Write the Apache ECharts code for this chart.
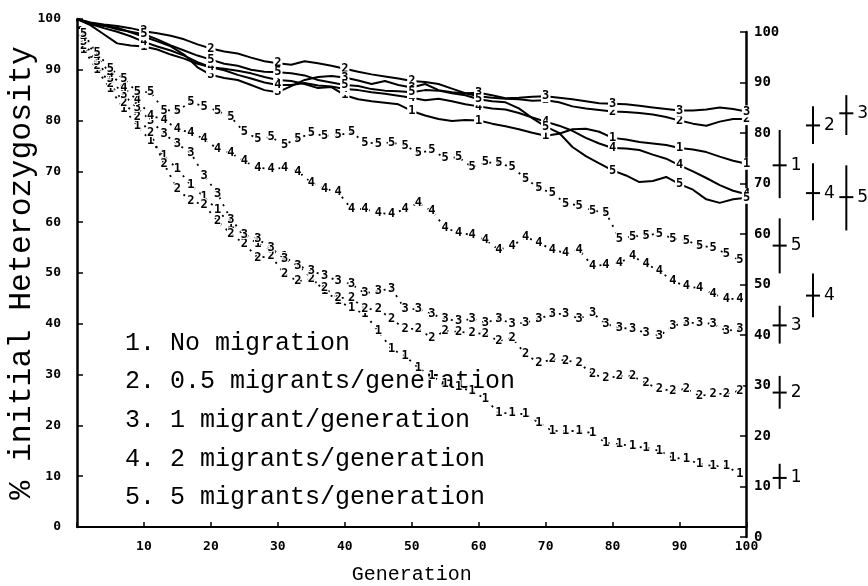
<!DOCTYPE html>
<html><head><meta charset="utf-8">
<script src="https://cdn.jsdelivr.net/npm/echarts@6/dist/echarts.min.js"></script>
<style>html,body{margin:0;padding:0;background:#fff}#c{width:868px;height:586px}</style>
</head><body><div id="c"></div>
<script>
// Generations at which the solid (total heterozygosity) lines are read
const upperGens = [0,2,4,6,8,10,12,14,16,18,20,22,24,26,28,30,32,34,36,38,40,42,44,46,48,50,52,54,56,58,60,62,64,66,68,70,72,74,76,78,80,82,84,86,88,90,92,94,96,98,100];
const total1 = [100,98.8,97.0,95.2,94.8,94.6, 94.0,93.0,92.2,91.2,90.5, 90.2,89.8,89.3,88.6,88.0, 87.8,87.2,86.4,86.6,85.0, 84.2,83.8,83.5,83.2,81.9, 81.0,80.3,79.9,80.1,80.0, 79.4,78.9,78.3,77.6,77.0, 77.4,78.3,78.4,77.8,76.6, 76.3,75.8,75.5,75.2,74.6, 74.3,73.8,72.9,72.1,71.5];
const total2 = [100,99.3,98.9,98.6,98.2,97.6, 97.2,96.7,96.0,95.0,94.2, 93.6,93.2,92.4,91.7,91.3, 91.0,91.7,91.3,90.8,90.2, 89.6,89.1,88.7,88.3,87.8, 87.6,87.2,86.3,85.4,84.8, 84.5,84.3,84.2,83.9,84.0, 83.6,82.8,82.4,82.1,81.8, 81.7,81.5,81.2,80.7,80.0, 79.4,79.0,79.8,80.3,80.3];
const total3 = [100,99.0,98.6,98.3,97.4,96.5, 95.6,94.6,93.0,90.5,89.0, 88.4,88.0,87.0,86.0,85.6, 86.8,88.0,88.6,88.8,88.5, 87.9,87.2,87.8,87.0,86.5, 87.2,86.0,85.6,85.4,85.5, 85.0,84.4,84.5,84.7,84.8, 84.5,84.2,83.8,83.4,83.3, 83.2,82.9,82.6,82.3,82.0, 82.0,82.2,82.6,82.3,81.8];
const total4 = [100,99.0,98.2,97.5,96.6,95.5, 94.6,93.8,92.8,91.5,90.5, 89.9,89.0,88.3,87.5,87.0, 87.0,87.4,86.9,86.7,86.2, 86.0,85.6,85.3,84.9,84.5, 84.0,84.3,83.8,83.2,82.8, 82.4,82.2,81.5,80.6,79.8, 79.0,78.0,76.6,75.5,74.6, 74.5,74.2,73.3,72.5,71.2, 70.0,68.7,67.3,66.2,65.5];
const total5 = [100,99.2,98.7,98.0,97.5,97.0, 96.0,94.8,93.8,92.8,92.0, 91.2,90.8,90.0,89.6,89.5, 89.3,88.9,88.0,87.5,87.0, 86.8,86.2,85.9,85.8,85.6, 86.0,85.9,85.4,85.0,84.2, 83.8,83.6,82.4,80.5,78.8, 77.6,74.8,73.0,71.6,70.2, 69.2,67.9,68.1,68.9,67.5, 66.4,64.5,63.8,64.5,64.8];

// Generations of the numbered (within-subpopulation) curves
const lowerGens = [0,1,3,5,7,9,11,13,15,17,19,21,23,25,27,29,31,33,35,37,39,41,43,45,47,49,51,53,55,57,59,61,63,65,67,69,71,73,75,77,79,81,83,85,87,89,91,93,95,97,99];
const within1 = [100, 94,90,86.2,82.3,79,76,73,70.5,67.3,65, 62.4,59.5,57.5,55.8,54.5,53.2,51.5,49,46.5,44.5, 43.1,41.9,38.6,35,33.7,31.3,29.7,28.1,27.5,26.8, 25.2,22.4,22.4,22.2,20.5,18.9,18.9,18.9,18.5,16.5, 16.3,15.9,15.6,15,13.6,13.4,12.4,12,12,10.4];
const within2 = [100, 94.8,90.7,87.2,83.5,80.8,77.5,71.5,66.5,64.2,63.4, 60.2,57.7,55.7,53,53.3,49.8,48.4,48.8,47,45.1, 45.1,42.9,42.9,40.9,39,39,37.2,38.6,38.4,38.2, 38,36.6,37.2,34,32.3,33,32.8,32.3,30.1,29.3, 29.7,29.7,28.3,27.2,26.8,27.2,25.8,26.2,26.2,26.8];
const within3 = [100, 95.5,91.5,88.2,85,82.5,80,77.4,75.4,73.6,69.2, 65.6,60.5,57.5,56.7,54.9,52.8,51.5,50.4,49.5,48.4, 47.8,46,46.5,46.9,42.9,42.9,41.9,41,40.5,41, 40.2,41,40,40.2,41,41.9,42,41,42.1,40, 39.2,39,38.2,37.6,39.6,40.2,40.2,40,38.6,39];
const within4 = [100, 96.3,92.5,89.2,86.5,84,81,80.2,78.3,77.6,76.4, 74.4,73.6,72,70.7,70.5,70.7,70,67.8,66.6,65.9, 62.6,62.6,61.8,61.6,62.6,63.8,62.2,58.9,57.9,57.5, 56.5,54.6,55.3,57.1,56,54.5,54,54.5,51.4,51.6, 52,53.3,51.8,50.4,48.4,47.4,47,45.9,44.9,44.9];
const within5 = [100, 97,93.3,90.2,88.2,85.6,85.6,82,82,83.6,82.8, 81.9,80.7,77.7,76.5,76.7,75.3,76.5,77.5,77,77.1, 77.7,75.7,75.5,75.7,75.1,73.6,74.2,72.6,72.8,70.8, 71.8,71.6,70.8,68.6,66.7,65.7,63.7,63.3,62.3,61.9, 56.8,57.2,57.4,57.8,56.8,56.4,55.4,55,53.8,52.5];

const seriesDigits = ['1','2','3','4','5'];
const legendLines = ['1. No migration','2. 0.5 migrants/generation','3. 1 migrant/generation','4. 2 migrants/generation','5. 5 migrants/generation'];
const yTitle = '% initial Heterozygosity';
const xTitle = 'Generation';

// Error bars (read on the right-hand axis)
const errColumns = ['c1','c2','c3'];
const errLabels = ['1','2','3','4','5','5','4','3','2','1'];
const errColumn = ['c1','c2','c3','c2','c3','c1','c2','c1','c1','c1'];
const errMean = [73.6,81.5,83.9,68.1,67.3,57.7,47.8,41.9,28.6,11.7];
const errLow  = [67.1,77.8,79.6,62.7,60.7,52.2,43.5,38.3,25.4,9.5];
const errHigh = [80.6,85.3,87.5,74.0,73.6,63.1,52.2,45.8,31.9,14.5];

const totals = [total1,total2,total3,total4,total5];
const withins = [within1,within2,within3,within4,within5];

const tickFont = {color:'#000', fontFamily:'DejaVu Sans Mono', fontWeight:'bold', fontSize:13};
const series = [];
withins.forEach((arr, i) => {
  series.push({
    type:'line', xAxisIndex:0, yAxisIndex:0, animation:false, silent:true,
    symbol:'circle', symbolSize:0, showSymbol:true, showAllSymbol:true,
    lineStyle:{color:'#000', width:1.8, type:[2,6]},
    itemStyle:{color:'#000'},
    label:{show:true, position:'inside', formatter: seriesDigits[i],
      fontFamily:'DejaVu Sans Mono', fontWeight:'bold', fontSize:12, color:'#000',
      textBorderColor:'#fff', textBorderWidth:2},
    data: lowerGens.map((g, j) => ({value:[g, arr[j]], label:{show: g > 0}})),
    z:2
  });
});
totals.forEach((arr, i) => {
  series.push({
    type:'line', xAxisIndex:0, yAxisIndex:0, animation:false, silent:true,
    symbol:'circle', symbolSize:0, showSymbol:true, showAllSymbol:true,
    lineStyle:{color:'#000', width:2},
    itemStyle:{color:'#000'},
    label:{show:true, position:'inside', formatter: seriesDigits[i],
      fontFamily:'DejaVu Sans Mono', fontWeight:'bold', fontSize:12, color:'#000',
      backgroundColor:'#fff', padding:[0,1]},
    data: upperGens.map((g, j) => ({value:[g, arr[j]], label:{show: g > 0 && g % 10 === 0}})),
    z:3
  });
});
series.push({
  type:'custom', xAxisIndex:2, yAxisIndex:2, animation:false, silent:true,
  data: errMean.map((m, i) => [errColumn[i], m, errLow[i], errHigh[i]]),
  renderItem: function (params, api) {
    const c = api.value(0);
    const pm = api.coord([c, api.value(1)]);
    const pl = api.coord([c, api.value(2)]);
    const ph = api.coord([c, api.value(3)]);
    return {type:'group', children:[
      {type:'line', shape:{x1:pm[0], y1:ph[1], x2:pm[0], y2:pl[1]}, style:{stroke:'#000', lineWidth:2}},
      {type:'line', shape:{x1:pm[0]-7, y1:pm[1], x2:pm[0]+7, y2:pm[1]}, style:{stroke:'#000', lineWidth:2}},
      {type:'text', x:pm[0]+11, y:pm[1], style:{text: errLabels[params.dataIndex], fill:'#000',
        fontFamily:'DejaVu Sans', fontSize:17, verticalAlign:'middle', align:'left'}}
    ]};
  }
});

const graphics = legendLines.map((t, i) => ({
  type:'text', x:125, y:343 + i*38.7, silent:true,
  style:{text:t, fill:'#000', fontFamily:'Liberation Mono', fontSize:25, verticalAlign:'middle', align:'left'}
}));
graphics.push({
  type:'text', x:22, y:273, rotation:Math.PI/2, silent:true,
  style:{text:yTitle, fill:'#000', fontFamily:'Liberation Mono', fontSize:31.5, verticalAlign:'middle', align:'center'}
});

const chart = echarts.init(document.getElementById('c'), null, {renderer:'canvas'});
chart.setOption({
  backgroundColor:'#fff',
  animation:false,
  grid:[
    {left:77, right:121.5, top:19, bottom:59, outerBoundsMode:'none'},
    {left:77, right:122, top:32, bottom:49, outerBoundsMode:'none'},
    {left:763, width:100, top:32, bottom:49, outerBoundsMode:'none'}
  ],
  xAxis:[
    {gridIndex:0, type:'value', min:0, max:100, interval:10,
     axisLine:{show:true, onZero:false, lineStyle:{color:'#000', width:2}},
     axisTick:{show:true, inside:true, length:5, lineStyle:{color:'#000', width:1.5}},
     axisLabel:Object.assign({margin:13, formatter: v => v === 0 ? '' : String(v)}, tickFont),
     splitLine:{show:false},
     name:xTitle, nameLocation:'middle', nameGap:38,
     nameTextStyle:{fontFamily:'Liberation Mono', fontSize:20, color:'#000'}},
    {gridIndex:1, type:'value', min:0, max:100, show:false, axisLine:{onZero:false}},
    {gridIndex:2, type:'category', data:errColumns, show:false}
  ],
  yAxis:[
    {gridIndex:0, type:'value', min:0, max:100, interval:10,
     axisLine:{show:true, onZero:false, lineStyle:{color:'#000', width:2.5}},
     axisTick:{show:true, inside:true, length:6, lineStyle:{color:'#000', width:1.5}},
     axisLabel:Object.assign({margin:16}, tickFont),
     splitLine:{show:false}},
    {gridIndex:1, type:'value', position:'right', min:0, max:100, interval:10,
     axisLine:{show:true, onZero:false, lineStyle:{color:'#000', width:2.5}},
     axisTick:{show:true, inside:true, length:6, lineStyle:{color:'#000', width:1.5}},
     axisLabel:Object.assign({}, tickFont, {margin:8, fontSize:14}),
     splitLine:{show:false}},
    {gridIndex:2, type:'value', min:0, max:100, show:false}
  ],
  graphic: graphics,
  series: series
});
</script></body></html>
